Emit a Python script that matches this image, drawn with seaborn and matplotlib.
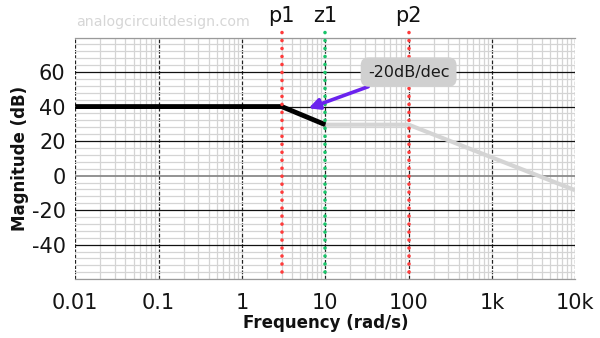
import matplotlib
matplotlib.use("Agg")
import matplotlib.pyplot as plt
import seaborn as sns
from matplotlib.ticker import FixedLocator, LogLocator, MultipleLocator, NullFormatter
import matplotlib.transforms as mtransforms

# ---- data ----
freq_pass = [0.01, 3, 10]
mag_pass = [40, 40, 29.5]
freq_rest = [10, 100, 10000]
mag_rest = [29.5, 29.5, -8.5]
marker_freqs = [3, 10, 100]
marker_names = ["p1", "z1", "p2"]
marker_colors = ["#ff3b3b", "#19c46a", "#ff3b3b"]
marker_span = [-56, 85]
x_ticks = [0.01, 0.1, 1, 10, 100, 1000, 10000]
x_ticklabels = ["0.01", "0.1", "1", "10", "100", "1k", "10k"]
y_ticks = [-40, -20, 0, 20, 40, 60]
slope_text = "-20dB/dec"
watermark = "analogcircuitdesign.com"

sns.set_theme(style="white")
plt.rcParams['font.family'] = ['DejaVu Sans']
plt.rcParams['axes.unicode_minus'] = False

fig = plt.figure(figsize=(6, 3.38), dpi=100)
ax = fig.add_axes([0.1255, 0.174, 0.8333, 0.715])
ax.set_xscale('log')
ax.set_xlim(0.01, 10000)
ax.set_ylim(-60, 80)

ax.xaxis.set_major_locator(FixedLocator(x_ticks))
ax.set_xticklabels(x_ticklabels)
ax.xaxis.set_minor_locator(LogLocator(base=10, subs=range(2, 10), numticks=20))
ax.xaxis.set_minor_formatter(NullFormatter())
ax.yaxis.set_major_locator(FixedLocator(y_ticks))
ax.yaxis.set_minor_locator(MultipleLocator(4))

ax.grid(which='minor', axis='both', color='#d4d4d4', lw=0.9)
ax.grid(which='major', axis='y', color='#111111', lw=0.9)
ax.grid(which='major', axis='x', color='#222222', lw=0.9, ls=(0, (3, 1.2)))
for gl, v in zip(ax.get_ygridlines(), y_ticks):
    if v == 0:
        gl.set_color('#8a8a8a')
        gl.set_linewidth(1.3)

for s in ['left', 'right']:
    ax.spines[s].set_visible(False)
for s in ['top', 'bottom']:
    ax.spines[s].set_color('#9a9a9a')
    ax.spines[s].set_linewidth(0.9)

ax.tick_params(axis='both', which='major', direction='out', length=4, width=0.9,
               color='#222222', labelsize=15, labelcolor='#151515')
ax.tick_params(axis='x', which='major', pad=6)
ax.tick_params(axis='y', which='major', pad=3)
ax.tick_params(which='minor', length=0)

sns.lineplot(x=freq_rest, y=mag_rest, color='#d4d4d4', lw=3, ax=ax, zorder=3,
             solid_capstyle='butt')
sns.lineplot(x=freq_pass, y=mag_pass, color='black', lw=3.5, ax=ax, zorder=4,
             solid_capstyle='butt')

for f, c in zip(marker_freqs, marker_colors):
    ax.plot([f, f], marker_span, color=c, lw=2.6, ls=(0, (0.01, 2.2)),
            dash_capstyle='round', clip_on=False, zorder=5)

trans = mtransforms.blended_transform_factory(ax.transData, ax.transAxes)
for f, name in zip(marker_freqs, marker_names):
    ax.text(f, 1.088, name, transform=trans, ha='center', va='center', fontsize=15,
            color='#111111', clip_on=False)

ax.annotate(slope_text, xy=(6.3, 39), xytext=(100, 60), ha='center', va='center',
            fontsize=11.5, color='#1a1a1a', zorder=6,
            bbox=dict(boxstyle='round,pad=0.45,rounding_size=0.5', fc='#d0d0d0', ec='none'),
            arrowprops=dict(arrowstyle='-|>', color='#6a22ee', lw=2.6, mutation_scale=16,
                            shrinkA=0, shrinkB=0))

fig.text(76 / 600, 1 - 22 / 338, watermark, color='#d6d6d6', fontsize=10.2,
         ha='left', va='center')

ax.set_xlabel("Frequency (rad/s)", fontweight='bold', fontsize=12, color='#111111')
ax.set_ylabel("Magnitude (dB)", fontweight='bold', fontsize=12, color='#111111')
ax.xaxis.label.set_va('center')
ax.yaxis.label.set_va('center')
ax.xaxis.set_label_coords(0.5, -0.181)
ax.yaxis.set_label_coords(-0.11, 0.5)

fig.savefig("out.png", dpi=100, facecolor='white')
